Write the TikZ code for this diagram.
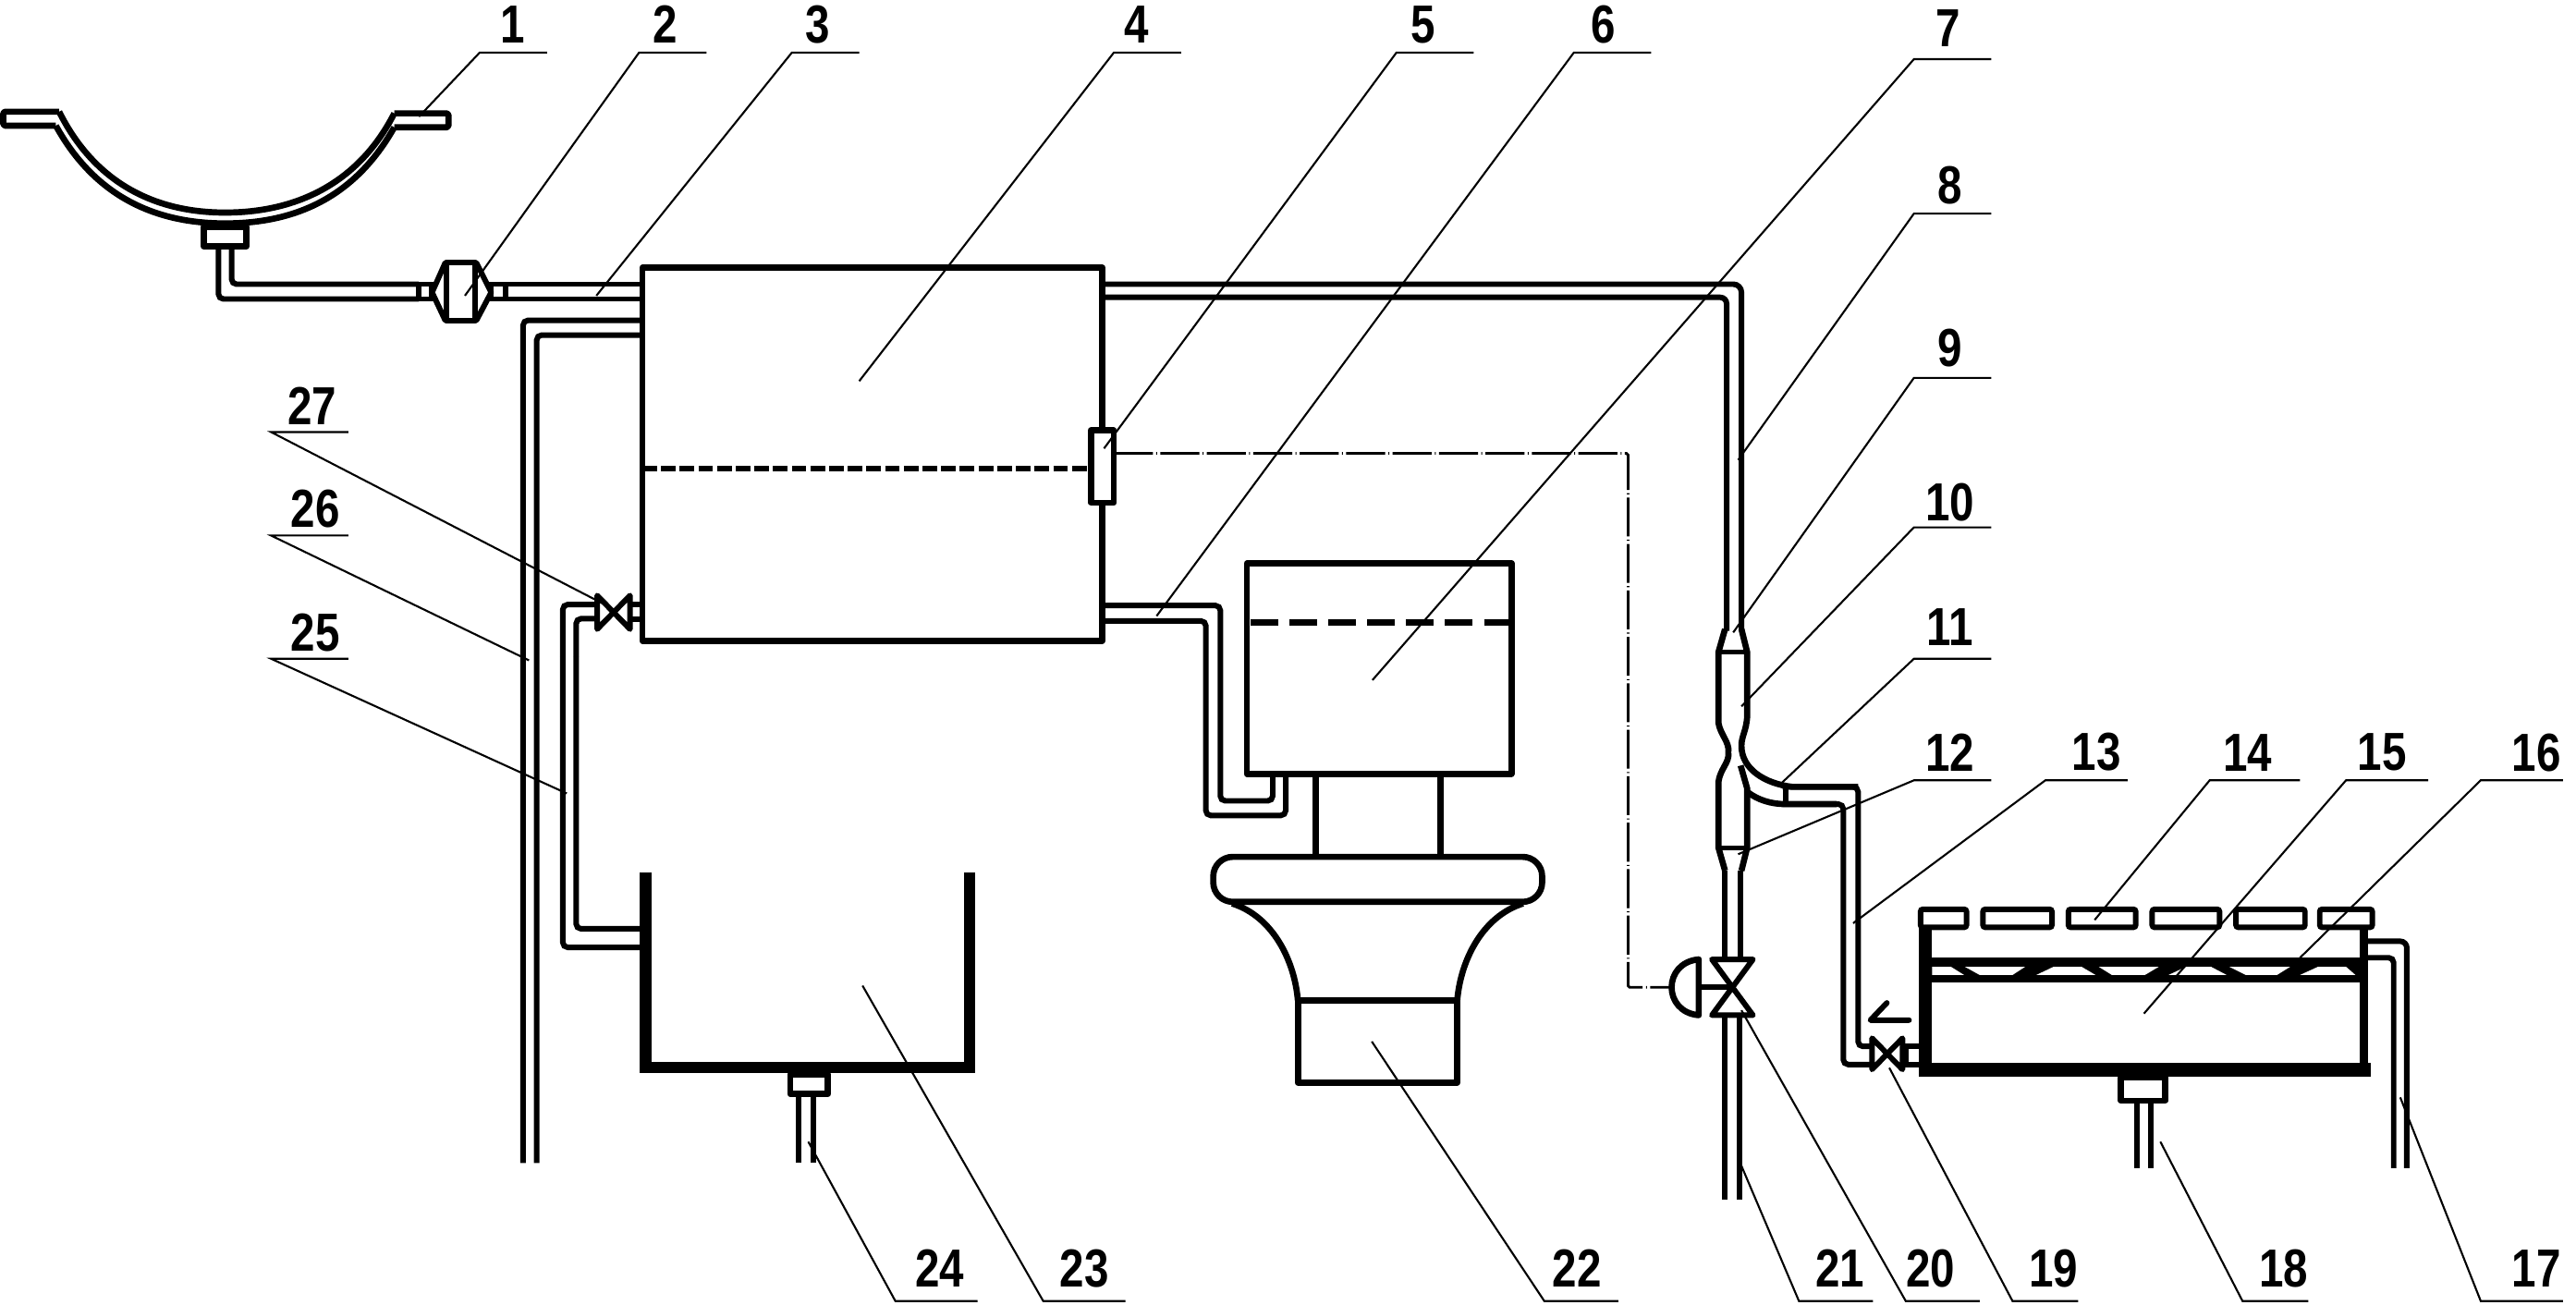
\documentclass[tikz,border=0pt]{standalone}
\usepackage{fontspec}
\setmainfont[FakeStretch=0.82]{Liberation Sans}
\begin{document}
\begin{tikzpicture}[x=0.03555cm,y=-0.03555cm,
  heavy/.style={line width=3.8pt,line join=round},
  wall/.style={line width=7pt,line join=round,line cap=round},
  pipe/.style={line width=3.4pt,rounded corners=3pt},
  leader/.style={line width=1.2pt},
  signal/.style={line width=1.6pt,dash pattern=on 24pt off 2pt on 0.6pt off 2pt},
  numlabel/.style={font=\fontsize{33}{36}\selectfont\bfseries,inner sep=0pt},
  valvebody/.style={line width=3.4pt,line join=round,fill=white}]
\useasboundingbox (0,0) rectangle (1568,793.9);
% collector dish
\draw[heavy,rounded corners=1pt] (36,68) -- (2,68) -- (2,76.5) -- (34,76.5);
\draw[heavy,rounded corners=1pt] (240,77.5) -- (273,77.5) -- (273,69) -- (240,69);
\draw[heavy] (36,68) .. controls (58,112) and (95,129.4) .. (137,129.4) .. controls (180,129.4) and (218,112) .. (240,69);
\draw[heavy] (34,76.5) .. controls (58,120) and (95,136) .. (137,136) .. controls (180,136) and (216,120) .. (240,77.5);
\draw[heavy] (124,138) rectangle (150,150);
% pipe dish to valve 2 to box 4
\draw[pipe] (133,150) -- (133,182) -- (255,182);
\draw[pipe] (141,150) -- (141,173) -- (255,173);
\draw[line width=3.4pt] (255,173) rectangle (263,182);
\draw[line width=3.4pt] (299,173) rectangle (308,182);
\draw[pipe] (308,173) -- (391,173);
\draw[pipe] (308,182) -- (391,182);
\draw[valvebody] (263,178) -- (271,160) -- (290,160) -- (299,178) -- (290,195) -- (271,195) -- cycle;
\draw[valvebody] (272,160) rectangle (289,195);
% pipe 26
\draw[pipe] (318.4,708) -- (318.4,195) -- (391,195);
\draw[pipe] (326.7,708) -- (326.7,204) -- (391,204);
% box 4
\draw[heavy] (391,163) rectangle (671,390);
\draw[line width=3.4pt,dash pattern=on 9pt off 2.5pt] (391,285) -- (664,285);
\draw[heavy,fill=white] (664,262) rectangle (678,306);
% signal line
\draw[signal,rounded corners=1pt] (678,276) -- (991,276) -- (991,601) -- (1017,601);
% pipe 8
\draw[pipe,rounded corners=5pt] (671,173) -- (1060,173) -- (1060,384);
\draw[pipe,rounded corners=4pt] (671,181) -- (1051,181) -- (1051,384);
% venturi
\draw[heavy] (1050,383) -- (1046,397) -- (1046,440) .. controls (1047,447) and (1053,452) .. (1052,458) .. controls (1053,464) and (1047,468) .. (1046,476) -- (1046,516) -- (1050,530);
\draw[heavy] (1060,383) -- (1063.5,397) -- (1063.5,436) .. controls (1063,445) and (1060,448) .. (1060,454) .. controls (1060,468) and (1074,477) .. (1091,479) -- (1131,479);
\draw[heavy] (1059.5,466) -- (1063.5,480) -- (1063.5,516) -- (1060,530);
\draw[heavy] (1063.5,482) .. controls (1070,487) and (1078,489.5) .. (1087,489.5) -- (1118,489.5);
\draw[line width=3pt] (1046,397) -- (1063.5,397) (1046,516) -- (1063.5,516) (1087,479) -- (1087,489.5);
% outlet pipe 13
\draw[pipe] (1085,479) -- (1131,479) -- (1131,637) -- (1140,637);
\draw[pipe] (1085,489.5) -- (1122,489.5) -- (1122,648) -- (1140,648);
\draw[line width=3.4pt] (1158,637) -- (1170,637) (1158,648) -- (1170,648) (1160,637) -- (1160,648);
\draw[valvebody] (1139.5,632) -- (1158,651) -- (1158,632) -- (1139.5,651) -- cycle;
\draw[line width=3.4pt,line cap=round,line join=round] (1148.5,610.5) -- (1138.5,621) -- (1162,621);
% pipe below venturi + valve 20
\draw[pipe] (1050,530) -- (1050,584);
\draw[pipe] (1059.5,530) -- (1059.5,584);
\draw[pipe] (1050,618) -- (1050,730);
\draw[pipe] (1058.7,618) -- (1058.7,730);
\draw[valvebody] (1042,584) -- (1067,584) -- (1042,618) -- (1067,618) -- cycle;
\draw[line width=3.4pt] (1034,601) -- (1054.5,601);
\draw[heavy] (1034,584) .. controls (1012,586) and (1012,616) .. (1034,618) -- cycle;
% pipe 6 and box 7
\draw[pipe] (672,368.6) -- (742.8,368.6) -- (742.8,487.5) -- (774.7,487.5) -- (774.7,471);
\draw[pipe] (672,378) -- (734,378) -- (734,496.4) -- (782.6,496.4) -- (782.6,471);
\draw[heavy] (759,343) rectangle (920,471);
\draw[line width=3.8pt,dash pattern=on 17pt off 7pt] (761,379) -- (920,379);
\draw[heavy] (801,471) -- (801,520) (877,471) -- (877,520);
\draw[heavy,rounded corners=12pt] (738.5,521.6) rectangle (938.7,549);
\draw[heavy] (750,550) .. controls (775,558) and (788,585) .. (790,609);
\draw[heavy] (927,550) .. controls (902,558) and (889,585) .. (887,609);
\draw[heavy] (790,609) rectangle (887,659);
% tank 23
\draw[wall,line cap=butt,line join=miter] (393,531) -- (393,650) -- (590,650) -- (590,531);
\draw[pipe] (342.6,400) -- (342.6,368) -- (364,368);
\draw[pipe] (350.7,400) -- (350.7,376.6) -- (364,376.6);
\draw[pipe] (342.6,400) -- (342.6,576.7) -- (390,576.7);
\draw[pipe] (350.7,400) -- (350.7,565.4) -- (390,565.4);
\draw[line width=3.4pt] (383,368) -- (391,368) (383,377) -- (391,377);
\draw[valvebody] (363.5,362.5) -- (383.5,383) -- (383.5,362.5) -- (363.5,383) -- cycle;
\draw[heavy] (481,654) rectangle (504,666);
\draw[pipe] (486,666) -- (486,708) (495,666) -- (495,708);
% tank 15
\draw[line width=8pt] (1172,558) -- (1172,655);
\draw[line width=5pt] (1439,565) -- (1439,655);
\draw[line width=8.5pt] (1168,651) -- (1443,651);
\fill (1174,583) rectangle (1437,598);
\fill[white] (1176,588.5) -- (1187.5,588.5) -- (1195.5,593.5) -- (1176,593.5) -- cycle;
\fill[white] (1196,588.5) -- (1232.7,588.5) -- (1225,593.5) -- (1205,593.5) -- cycle;
\fill[white] (1250,588.5) -- (1267,588.5) -- (1275.5,593.5) -- (1239.5,593.5) -- cycle;
\fill[white] (1277.5,588.5) -- (1314,588.5) -- (1305.6,593.5) -- (1285.5,593.5) -- cycle;
\fill[white] (1330.7,588.5) -- (1345.8,588.5) -- (1355.3,593.5) -- (1320,593.5) -- cycle;
\fill[white] (1357,588.5) -- (1394,588.5) -- (1386,593.5) -- (1367,593.5) -- cycle;
\fill[white] (1411,588.5) -- (1428,588.5) -- (1433.7,593.5) -- (1400,593.5) -- cycle;
\foreach \a/\b in {1169/1197,1207/1249,1259/1300,1310/1351,1361/1403,1412/1444}
  \draw[line width=3.4pt,rounded corners=1.5pt,fill=white] (\a,553.5) rectangle (\b,564.5);
\draw[heavy] (1291,656) rectangle (1318,670);
\draw[pipe] (1301,670) -- (1301,711) (1309.4,670) -- (1309.4,711);
\draw[pipe,rounded corners=4pt] (1441,573) -- (1465,573) -- (1465,711);
\draw[pipe,rounded corners=3pt] (1441,583) -- (1457,583) -- (1457,711);
% labels and leaders
\foreach \n/\lx/\ly/\ha/\hb/\hy/\tx/\ty in {
 1/312/15/292/333/32/255/71, 2/405/15/389/430/32/283/180, 3/498/15/482/523/32/363/180,
 4/692/15/678/719/32/523/232, 5/866/15/850/897/32/672/273, 6/976/15/958/1005/32/704/375,
 7/1186/17/1165/1212/36/835.4/414, 8/1187/113/1165/1212/130/1058/280, 9/1187/212/1165/1212/230/1055/385,
 10/1187/306/1165/1212/321/1060/430, 11/1187/382/1165/1212/401/1083/478, 12/1187/458/1165/1212/475/1058/520,
 13/1276/458/1245/1295/475/1128/562, 14/1368/458/1345/1400/475/1275/560, 15/1450/458/1428/1478/475/1305/617,
 16/1544/458/1510/1560/475/1400/583, 17/1544/772/1510/1560/792/1461/668, 18/1390/772/1365/1405/792/1315/695,
 19/1250/772/1225/1265/792/1150/650, 20/1175/772/1160/1205/792/1060/615, 21/1120/772/1095/1140/792/1058/705,
 22/960/772/940/985/792/835/634, 23/660/772/635/685/792/525/600, 24/572/772/545/595/792/492/695,
 25/192/385/165/212/401/345/483, 26/192/310/165/212/326/322/402, 27/190/247/165/212/263/370/369}
{
  \node[numlabel] (t\n) at (\lx,\ly) {\n};
  \coordinate (ha\n) at (\ha,\hy);
  \coordinate (hb\n) at (\hb,\hy);
  \coordinate (tip\n) at (\tx,\ty);
  \draw[leader] (hb\n) -- (ha\n) -- (tip\n);
}
\end{tikzpicture}
\end{document}
